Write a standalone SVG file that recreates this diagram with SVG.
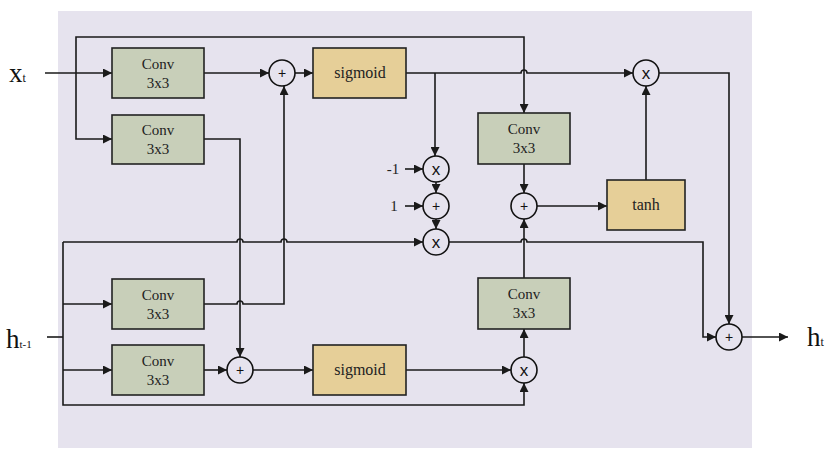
<svg xmlns="http://www.w3.org/2000/svg" width="831" height="455" viewBox="0 0 831 455">
<style>
.bg{fill:#e6e3ee}
.conv{fill:#c8cfb9;stroke:#222;stroke-width:1.6}
.act{fill:#e6cf98;stroke:#222;stroke-width:1.6}
.op{fill:#e6e3ee;stroke:#111;stroke-width:1.6}
.ln{fill:none;stroke:#1a1a1a;stroke-width:1.6}
.ar{marker-end:url(#ah)}
.t{font-family:"Liberation Serif",serif;fill:#222;text-anchor:middle}
.s{font-family:"Liberation Sans",sans-serif;fill:#111;text-anchor:middle}
</style>
<defs>
<marker id="ah" viewBox="0 0 10 10" refX="10" refY="5" markerWidth="9" markerHeight="9" markerUnits="userSpaceOnUse" orient="auto">
<path d="M0,0 L10,5 L0,10 z" fill="#1a1a1a"/>
</marker>
</defs>
<rect class="bg" x="58" y="11" width="694" height="437"/>

<g id="connectors">
<path class="ln ar" d="M45,73 H112"/>
<path class="ln ar" d="M76,73 V37 H524 V113"/>
<path class="ln ar" d="M76,73 V139 H112"/>
<path class="ln ar" d="M204,73 H269"/>
<path class="ln ar" d="M295,73 H313"/>
<path class="ln ar" d="M406,73 H521 a3,3 0 0 1 6,0 H633"/>
<path class="ln ar" d="M435,73 V156"/>
<path class="ln ar" d="M405,169 H423"/>
<path class="ln ar" d="M436,182 V193"/>
<path class="ln ar" d="M405,206 H423"/>
<path class="ln ar" d="M436,219 V229"/>
<path class="ln ar" d="M63,242 H237 a3,3 0 0 1 6,0 H281 a3,3 0 0 1 6,0 H423"/>
<path class="ln ar" d="M449,242 H521 a3,3 0 0 1 6,0 H703 V337 H716"/>
<path class="ln ar" d="M524,164 V193"/>
<path class="ln ar" d="M537,206 H607"/>
<path class="ln ar" d="M646,180 V86"/>
<path class="ln ar" d="M659,73 H729 V324"/>
<path class="ln ar" d="M742,337 H788"/>
<path class="ln" d="M47,337 H63"/>
<path class="ln ar" d="M63,242 V405 H524 V383"/>
<path class="ln ar" d="M63,304 H112"/>
<path class="ln ar" d="M63,370 H112"/>
<path class="ln ar" d="M204,304 H237 a3,3 0 0 1 6,0 H284 V86"/>
<path class="ln ar" d="M204,139 H240 V357"/>
<path class="ln ar" d="M204,370 H227"/>
<path class="ln ar" d="M253,370 H313"/>
<path class="ln ar" d="M406,370 H511"/>
<path class="ln ar" d="M524,357 V329"/>
<path class="ln ar" d="M524,278 V219"/>
</g>

<g id="conv1"><rect class="conv" x="112" y="48" width="92" height="50"/><text class="t" x="158" y="69" font-size="15">Conv</text><text class="t" x="158" y="88" font-size="15">3x3</text></g>
<g id="conv2"><rect class="conv" x="112" y="115" width="92" height="49"/><text class="t" x="158" y="135" font-size="15">Conv</text><text class="t" x="158" y="154" font-size="15">3x3</text></g>
<g id="conv3"><rect class="conv" x="478" y="113" width="92" height="51"/><text class="t" x="524" y="134" font-size="15">Conv</text><text class="t" x="524" y="153" font-size="15">3x3</text></g>
<g id="conv4"><rect class="conv" x="112" y="279" width="92" height="50"/><text class="t" x="158" y="300" font-size="15">Conv</text><text class="t" x="158" y="319" font-size="15">3x3</text></g>
<g id="conv5"><rect class="conv" x="112" y="345" width="92" height="50"/><text class="t" x="158" y="366" font-size="15">Conv</text><text class="t" x="158" y="385" font-size="15">3x3</text></g>
<g id="conv6"><rect class="conv" x="478" y="278" width="92" height="51"/><text class="t" x="524" y="299" font-size="15">Conv</text><text class="t" x="524" y="318" font-size="15">3x3</text></g>

<g id="sigmoid1"><rect class="act" x="313" y="48" width="93" height="50"/><text class="t" x="360" y="78" font-size="16">sigmoid</text></g>
<g id="sigmoid2"><rect class="act" x="313" y="345" width="93" height="50"/><text class="t" x="360" y="375" font-size="16">sigmoid</text></g>
<g id="tanh"><rect class="act" x="607" y="180" width="78" height="50"/><text class="t" x="646" y="210" font-size="16">tanh</text></g>

<g id="add1"><circle class="op" cx="282" cy="73" r="13"/><text class="s" x="282" y="78" font-size="14">+</text></g>
<g id="mul_top"><circle class="op" cx="646" cy="73" r="13"/><text class="s" x="646" y="79" font-size="17">x</text></g>
<g id="mul_neg"><circle class="op" cx="436" cy="169" r="13"/><text class="s" x="436" y="175" font-size="17">x</text></g>
<g id="add_one"><circle class="op" cx="436" cy="206" r="13"/><text class="s" x="436" y="211" font-size="14">+</text></g>
<g id="mul_mid"><circle class="op" cx="436" cy="242" r="13"/><text class="s" x="436" y="248" font-size="17">x</text></g>
<g id="add_right"><circle class="op" cx="524" cy="206" r="13"/><text class="s" x="524" y="211" font-size="14">+</text></g>
<g id="add_out"><circle class="op" cx="729" cy="337" r="13"/><text class="s" x="729" y="342" font-size="14">+</text></g>
<g id="add_bottom"><circle class="op" cx="240" cy="370" r="13"/><text class="s" x="240" y="375" font-size="14">+</text></g>
<g id="mul_bottom"><circle class="op" cx="524" cy="370" r="13"/><text class="s" x="524" y="376" font-size="17">x</text></g>

<g id="labels">
<text class="t" x="393" y="174" font-size="15">-1</text>
<text class="t" x="394" y="211" font-size="15">1</text>
<text x="9" y="82" font-family="Liberation Serif,serif" font-size="27" fill="#111">x<tspan font-size="12">t</tspan></text>
<text x="6" y="348" font-family="Liberation Serif,serif" font-size="27" fill="#111">h<tspan font-size="11">t-1</tspan></text>
<text x="807" y="346" font-family="Liberation Serif,serif" font-size="27" fill="#111">h<tspan font-size="12">t</tspan></text>
</g>
</svg>
